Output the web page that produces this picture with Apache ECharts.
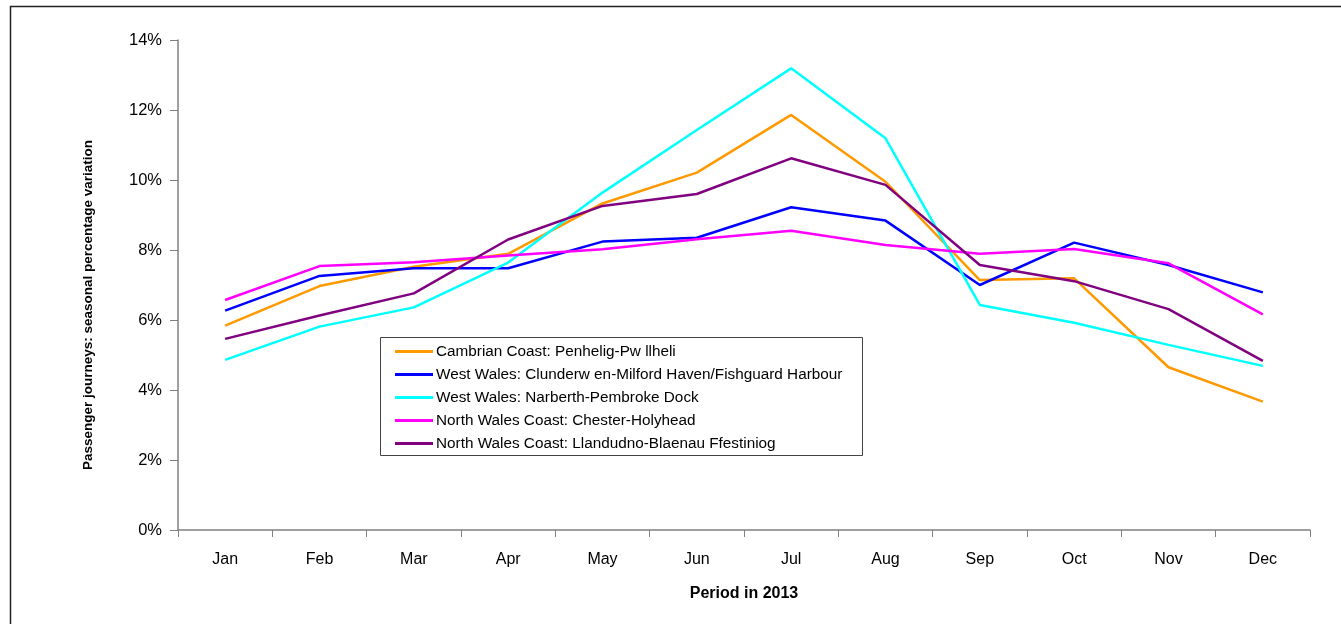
<!DOCTYPE html>
<html>
<head>
<meta charset="utf-8">
<script src="https://cdn.jsdelivr.net/npm/echarts@6/dist/echarts.min.js"></script>
<style>
  html, body { margin: 0; padding: 0; background: #fff; }
  #chart { width: 1341px; height: 624px; }
</style>
</head>
<body>
<div id="chart"></div>
<script>
  // months
  var months = ['Jan', 'Feb', 'Mar', 'Apr', 'May', 'Jun', 'Jul', 'Aug', 'Sep', 'Oct', 'Nov', 'Dec'];

  // seasonal % variation
  var cambrian = [5.84, 6.97, 7.52, 7.89, 9.33, 10.21, 11.86, 9.95, 7.14, 7.19, 4.65, 3.67];
  var clunderwen = [6.27, 7.26, 7.48, 7.48, 8.24, 8.35, 9.22, 8.84, 7.0, 8.21, 7.57, 6.79];
  var narberth = [4.86, 5.81, 6.36, 7.64, 9.64, 11.43, 13.19, 11.19, 6.43, 5.92, 5.29, 4.69];
  var chester = [6.57, 7.54, 7.65, 7.84, 8.02, 8.31, 8.55, 8.14, 7.89, 8.03, 7.62, 6.16];
  var llandudno = [5.46, 6.13, 6.76, 8.30, 9.26, 9.6, 10.62, 9.86, 7.57, 7.11, 6.31, 4.83];

  var names = [
    'Cambrian Coast: Penhelig-Pw llheli',
    'West Wales: Clunderw en-Milford Haven/Fishguard Harbour',
    'West Wales: Narberth-Pembroke Dock',
    'North Wales Coast: Chester-Holyhead',
    'North Wales Coast: Llandudno-Blaenau Ffestiniog'
  ];
  var colors = ['#ff9900', '#0000ff', '#00ffff', '#ff00ff', '#800080'];
  var allData = [cambrian, clunderwen, narberth, chester, llandudno];

  var myChart = echarts.init(document.getElementById('chart'));

  var series = [];
  for (var i = 0; i < names.length; i++) {
    series.push({
      name: names[i],
      type: 'line',
      data: allData[i],
      symbol: 'none',
      lineStyle: { width: 2.5, color: colors[i] },
      itemStyle: { color: colors[i] }
    });
  }

  myChart.setOption({
    animation: false,
    textStyle: { fontFamily: 'Liberation Sans, Arial, sans-serif' },
    graphic: [
      {
        type: 'rect',
        shape: { x: 10.5, y: 6.5, width: 1400, height: 700 },
        style: { fill: null, stroke: '#222', lineWidth: 1.5 },
        silent: true
      },
      {
        type: 'rect',
        shape: { x: 380.5, y: 337.5, width: 482, height: 118 },
        style: { fill: '#fff', stroke: '#444', lineWidth: 1 },
        z: 0,
        silent: true
      },
      {
        // y axis title, drawn by hand so it sits where the original has it
        type: 'text',
        x: 88,
        y: 305,
        rotation: Math.PI / 2,
        style: {
          text: 'Passenger journeys: seasonal percentage variation',
          fontSize: 13.5,
          fontWeight: 'bold',
          fontFamily: 'Liberation Sans, Arial, sans-serif',
          fill: '#000',
          align: 'center',
          verticalAlign: 'middle'
        },
        silent: true
      }
    ],
    grid: {
      left: 178,
      right: 31,
      top: 40,
      bottom: 94,
      containLabel: false
    },
    legend: {
      orient: 'vertical',
      left: 390,
      top: 339,
      itemGap: 8,
      itemWidth: 38,
      itemHeight: 17,
      icon: 'path://M0,7 L38,7 L38,10 L0,10 Z',
      textStyle: { fontSize: 15.3, color: '#000', padding: [0, 0, 0, -2] },
      data: names
    },
    xAxis: {
      type: 'category',
      data: months,
      boundaryGap: true,
      name: 'Period in 2013',
      nameLocation: 'middle',
      nameGap: 56,
      nameTextStyle: { fontSize: 16, fontWeight: 'bold', color: '#000' },
      axisLine: { lineStyle: { color: '#808080', width: 1.5 } },
      axisTick: { show: true, length: 7, inside: false, lineStyle: { color: '#808080' } },
      axisLabel: { fontSize: 16, color: '#000', margin: 22 },
      splitLine: { show: false }
    },
    yAxis: {
      type: 'value',
      min: 0,
      max: 14,
      interval: 2,
      axisLine: { show: true, lineStyle: { color: '#808080', width: 1.5 } },
      axisTick: { show: true, length: 8, lineStyle: { color: '#808080' } },
      axisLabel: {
        fontSize: 16.5,
        color: '#000',
        margin: 16,
        formatter: function (v) { return v + '%'; }
      },
      splitLine: { show: false }
    },
    series: series
  });
</script>
</body>
</html>
